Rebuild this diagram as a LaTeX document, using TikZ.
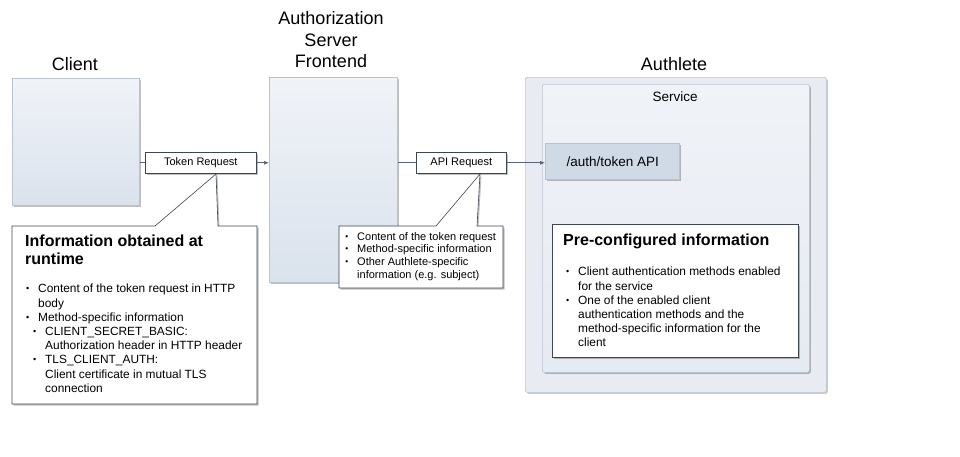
\documentclass[tikz,border=0pt]{standalone}
\usepackage{fontspec}
\setmainfont{Liberation Sans}
\usetikzlibrary{shadows,arrows.meta}
\definecolor{boxtop}{HTML}{F0F3F8}
\definecolor{boxbot}{HTML}{DAE2EC}
\definecolor{boxline}{HTML}{B9C4D3}
\definecolor{apifill}{HTML}{D0DAE6}
\definecolor{outerfill}{HTML}{E8ECF2}
\definecolor{conn}{HTML}{58627A}
\definecolor{callline}{HTML}{3E4652}
\tikzset{
  pbox/.style={draw=boxline, line width=0.6pt, top color=boxtop, bottom color=boxbot,
    drop shadow={shadow xshift=1.5pt, shadow yshift=-1.5pt, fill=black, opacity=0.25},
    anchor=north west, inner sep=0pt},
  apibox/.style={draw=boxline, line width=0.6pt, fill=apifill,
    drop shadow={shadow xshift=1.5pt, shadow yshift=-1.5pt, fill=black, opacity=0.25},
    anchor=north west, inner sep=0pt},
  outerbox/.style={draw=boxline, line width=0.6pt, fill=outerfill,
    drop shadow={shadow xshift=1.5pt, shadow yshift=-1.5pt, fill=black, opacity=0.2},
    anchor=north west, inner sep=0pt, rounded corners=2pt},
  servbox/.style={draw=boxline, line width=0.6pt, top color=boxtop, bottom color=boxbot!70!white,
    drop shadow={shadow xshift=1.5pt, shadow yshift=-1.5pt, fill=black, opacity=0.25},
    anchor=north west, inner sep=0pt, rounded corners=2pt},
  labbox/.style={draw=callline, line width=0.6pt, fill=white,
    drop shadow={shadow xshift=1.5pt, shadow yshift=-1.5pt, fill=black, opacity=0.25},
    inner sep=0pt, font=\fontsize{11}{13}\selectfont},
  callout/.style={draw=callline, line width=0.6pt, fill=white,
    drop shadow={shadow xshift=1.5pt, shadow yshift=-1.5pt, fill=black, opacity=0.25}},
  title/.style={font=\fontsize{18}{21.5}\selectfont, align=center},
  heading/.style={font=\bfseries\fontsize{16}{18.5}\selectfont, align=left, anchor=west, inner sep=0pt},
  bodytext/.style={font=\fontsize{11.9}{14.2}\selectfont, align=left, anchor=north west, inner sep=0pt},
  smalltext/.style={font=\fontsize{11}{12.8}\selectfont, align=left, anchor=north west, inner sep=0pt},
  conline/.style={draw=conn, line width=0.7pt},
  conarrow/.style={draw=conn, line width=0.7pt, -{Latex[length=5pt,width=4pt]}},
}
\newcommand{\bul}{\makebox[0pt][r]{\raisebox{0.1em}{\scalebox{0.75}{•}}\hspace{9pt}}}
\begin{document}
\begin{tikzpicture}[x=1pt,y=-1pt]
\useasboundingbox (0,0) rectangle (960,456);
% titles
\node[title] (tclient) at (75,64) {Client};
\node[title] (tfront) at (331,40) {Authorization\\Server\\Frontend};
\node[title] (tauth) at (674,64) {Authlete};
% main boxes
\node[pbox, minimum width=127, minimum height=127] (client) at (12,78) {};
\node[pbox, minimum width=128, minimum height=205] (front) at (269,77) {};
\node[outerbox, minimum width=301, minimum height=315] (authlete) at (525,77) {};
\node[servbox, minimum width=267, minimum height=288] (service) at (542,84) {};
\node[font=\fontsize{13.5}{16}\selectfont] (tserv) at (675,97) {Service};
\node[apibox, minimum width=134, minimum height=36] (api) at (545,143) {};
\node[font=\fontsize{13.5}{16}\selectfont, anchor=west] (tapi) at (563,162) {/auth/token API};
% request labels
\node[labbox, minimum width=111, minimum height=21, anchor=north west] (treq) at (145,152) {Token Request};
\node[labbox, minimum width=90, minimum height=21, anchor=north west] (areq) at (416,152) {API Request};
% connectors
\draw[conline] (client.east |- treq.west) -- (treq.west);
\draw[conarrow] (treq.east) -- (front.west |- treq.east);
\draw[conline] (front.east |- areq.west) -- (areq.west);
\draw[conarrow] (areq.east) -- (api.west |- areq.east);
% callout 1
\coordinate (c1tip) at (216,174);
\path[callout] (12,226) -- (155,226) -- (c1tip) -- (218,226) -- (257,226) -- (257,404) -- (12,404) -- cycle;
\node[heading] (h1) at (25,250) {Information obtained at\\runtime};
\node[bodytext] (b1) at (38,284) {\bul Content of the token request in HTTP\\body\\
\bul Method-specific information\\
\hspace*{7pt}\bul CLIENT\_SECRET\_BASIC:\\
\hspace*{7pt}Authorization header in HTTP header\\
\hspace*{7pt}\bul TLS\_CLIENT\_AUTH:\\
\hspace*{7pt}Client certificate in mutual TLS\\
\hspace*{7pt}connection};
% callout 2
\coordinate (c2tip) at (480,174);
\path[callout] (339,226) -- (436,226) -- (c2tip) -- (477,226) -- (503,226) -- (503,288) -- (339,288) -- cycle;
\node[smalltext] (b2) at (357,232) {\bul Content of the token request\\
\bul Method-specific information\\
\bul Other Authlete-specific\\information (e.g. subject)};
% pre-configured
\node[labbox, anchor=north west, minimum width=246, minimum height=133] (pre) at (552,224) {};
\node[heading] (h3) at (563,241) {Pre-configured information};
\node[bodytext] (b3) at (578,267) {\bul Client authentication methods enabled\\for the service\\
\bul One of the enabled client\\authentication methods and the\\method-specific information for the\\client};
\end{tikzpicture}
\end{document}
